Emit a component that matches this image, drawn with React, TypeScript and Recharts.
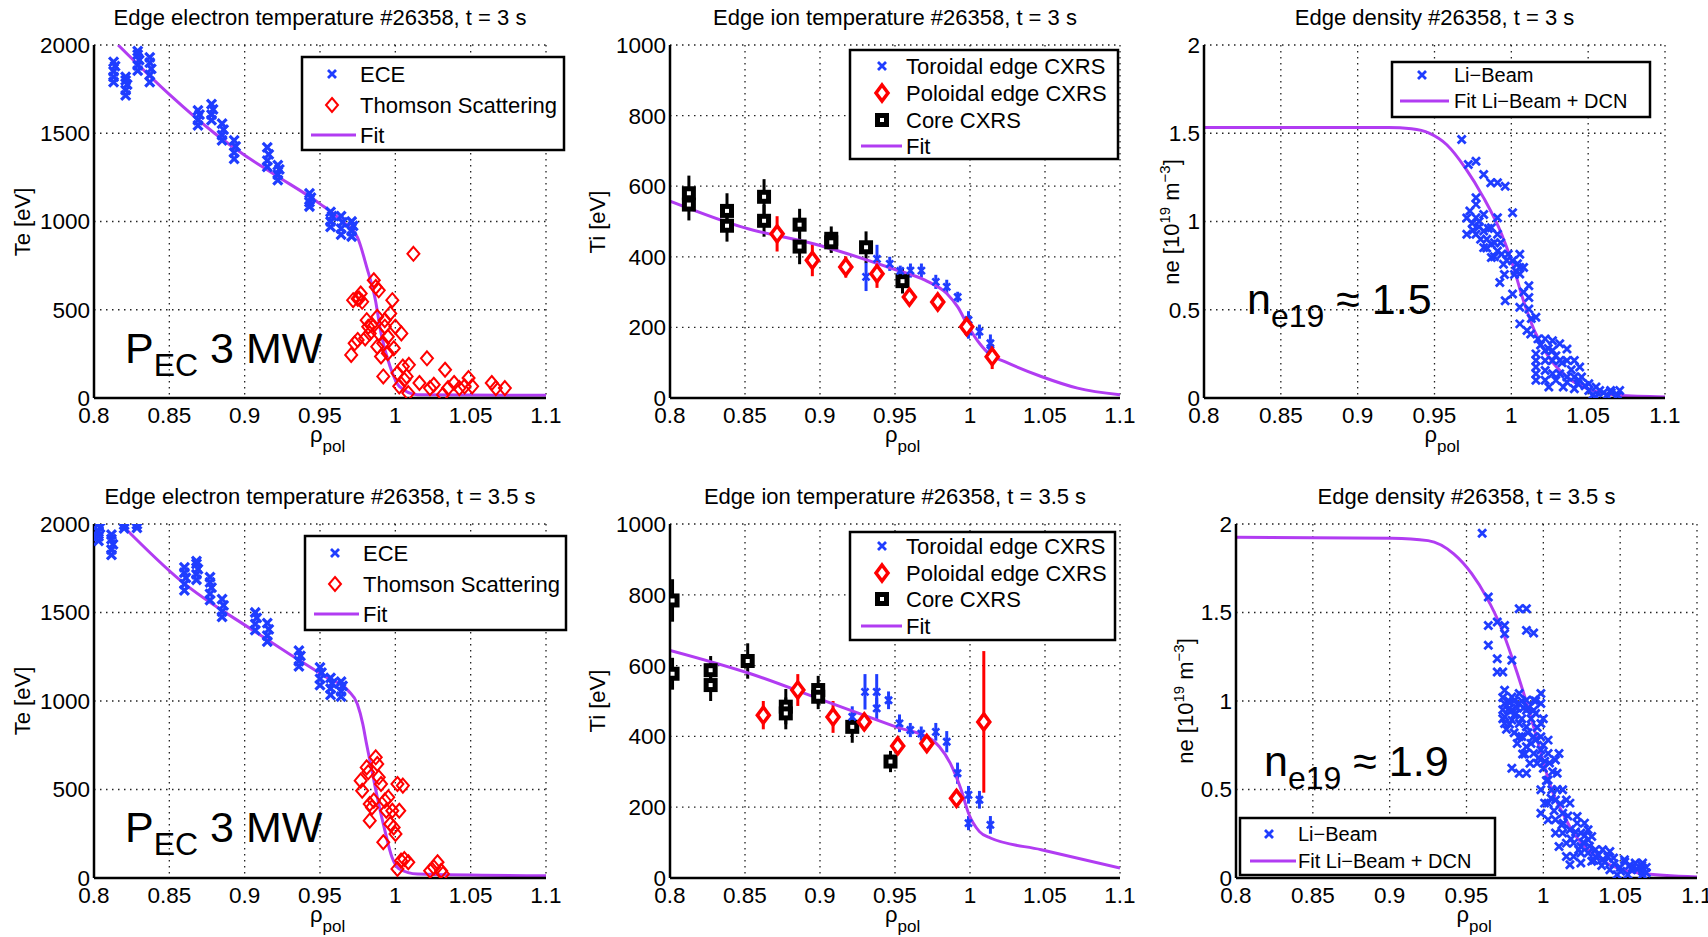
import React from 'react'
import { ComposedChart, Scatter, Line, XAxis, YAxis, CartesianGrid, ErrorBar } from 'recharts'

const FONT = '"Liberation Sans", Arial, Helvetica, sans-serif'
const BLUE = '#1f3dff'
const RED = '#ff0000'
const PURPLE = '#b13cf2'

const rhoTicks = [0.8, 0.85, 0.9, 0.95, 1, 1.05, 1.1]
const teTicks = [0, 500, 1000, 1500, 2000]
const tiTicks = [0, 200, 400, 600, 800, 1000]
const neTicks = [0, 0.5, 1, 1.5, 2]

// ---- t = 3 s ----
const eceTop = [
  [0.813, 1790], [0.813, 1820], [0.813, 1850], [0.814, 1880], [0.813, 1905],
  [0.821, 1715], [0.821, 1745], [0.822, 1775], [0.821, 1800], [0.821, 1820],
  [0.829, 1855], [0.829, 1885], [0.83, 1915], [0.829, 1945], [0.829, 1965],
  [0.837, 1790], [0.837, 1830], [0.838, 1865], [0.837, 1900], [0.837, 1930],
  [0.869, 1545], [0.869, 1575], [0.87, 1605], [0.869, 1630],
  [0.878, 1575], [0.878, 1605], [0.879, 1635], [0.878, 1665],
  [0.885, 1460], [0.885, 1490], [0.886, 1520], [0.885, 1555],
  [0.893, 1355], [0.893, 1390], [0.894, 1425], [0.893, 1460],
  [0.915, 1310], [0.915, 1345], [0.916, 1380], [0.915, 1420],
  [0.922, 1235], [0.922, 1265], [0.923, 1295], [0.922, 1320],
  [0.943, 1085], [0.943, 1110], [0.944, 1135], [0.943, 1160],
  [0.957, 970], [0.957, 1000], [0.958, 1030], [0.957, 1055],
  [0.964, 925], [0.964, 960], [0.965, 995], [0.964, 1030],
  [0.971, 915], [0.971, 945], [0.972, 975], [0.971, 1000],
]
const thomsonTop = [
  [0.9707, 244], [0.973, 310], [0.975, 329], [0.976, 563], [0.977, 592], [0.978, 545],
  [0.98, 338], [0.981, 441], [0.982, 404], [0.983, 366], [0.984, 413], [0.9857, 667],
  [0.987, 629], [0.988, 460], [0.989, 610], [0.989, 366], [0.9905, 235], [0.992, 122],
  [0.992, 310], [0.993, 441], [0.995, 347], [0.9966, 479], [0.998, 554], [0.999, 282],
  [1.0, 404], [1.0014, 141], [1.0026, 66], [1.004, 366], [1.005, 178], [1.006, 103],
  [1.0075, 122], [1.0086, 28], [1.009, 188], [1.012, 817], [1.016, 85], [1.021, 225],
  [1.023, 56], [1.0255, 75], [1.0316, 19], [1.033, 160], [1.035, 56], [1.039, 85],
  [1.0425, 56], [1.046, 66], [1.0486, 113], [1.051, 66], [1.064, 85], [1.0667, 56],
  [1.0727, 56], [0.975, 563], [0.972, 554], [0.993, 404], [0.995, 254], [0.988, 291],
]
const teFitTop = [
  [0.816, 2000], [0.85, 1720], [0.88, 1500], [0.9, 1375], [0.92, 1265], [0.95, 1100],
  [0.965, 1000], [0.9748, 911], [0.981, 742], [0.9868, 554], [0.9905, 366], [0.9965, 178],
  [1.0026, 66], [1.0147, 19], [1.1, 15],
]
const coreTop = [
  [0.8126, 580, 50], [0.8126, 548, 45], [0.838, 530, 50], [0.838, 488, 45],
  [0.8627, 570, 50], [0.8627, 502, 45], [0.8864, 491, 45], [0.8864, 429, 50],
  [0.9075, 451, 35], [0.9075, 441, 30], [0.9307, 427, 45], [0.955, 331, 35],
]
const poloTop = [
  [0.8714, 465, 50], [0.8949, 390, 45], [0.9172, 371, 30], [0.938, 352, 40],
  [0.9596, 286, 25], [0.9785, 272, 20], [0.9978, 202, 25], [1.0148, 117, 35],
]
const toroTop = [
  [0.9307, 343, 40], [0.938, 394, 40], [0.9465, 380, 20], [0.9535, 360, 15],
  [0.9603, 361, 20], [0.9676, 361, 20], [0.9772, 329, 20], [0.9845, 315, 20],
  [0.9918, 286, 15], [0.999, 221, 25], [0.999, 188, 20], [1.0063, 188, 20],
  [1.0136, 155, 25], [1.0136, 136, 20],
]
const tiFitTop = [
  [0.8, 558], [0.85, 482], [0.9, 432], [0.95, 364], [0.97, 334], [0.9845, 296],
  [0.9918, 258], [0.999, 202], [1.0063, 155], [1.0136, 122], [1.0232, 103],
  [1.0475, 61], [1.0717, 28], [1.1, 9],
]
const liTop = [
  [0.9677, 1.464], [0.972, 1.323], [0.977, 1.341], [0.982, 1.266], [0.9866, 1.219],
  [0.991, 1.219], [0.996, 1.2], [1.0008, 1.05], [0.971, 1.02], [0.971, 0.928],
  [0.977, 1.134], [0.977, 1.097], [0.977, 1.021], [0.977, 0.928], [0.982, 1.04],
  [0.982, 0.946], [0.982, 0.852], [0.987, 0.965], [0.987, 0.871], [0.987, 0.796],
  [0.991, 1.021], [0.991, 0.928], [0.991, 0.833], [0.9937, 0.815], [0.9949, 0.758],
  [0.998, 0.815], [1.0008, 0.777], [1.0055, 0.815], [1.0055, 0.739], [1.0055, 0.702],
  [0.9925, 0.655], [0.996, 0.551], [1.0008, 0.589], [1.0055, 0.514], [1.0114, 0.636],
  [1.0114, 0.57], [1.0114, 0.504], [1.016, 0.457], [1.0055, 0.42], [1.0102, 0.382],
  [1.0126, 0.363], [1.0173, 0.335], [1.022, 0.335], [1.0268, 0.325], [1.0315, 0.307],
  [1.0362, 0.278], [1.016, 0.25], [1.016, 0.213], [1.016, 0.175], [1.016, 0.137],
  [1.016, 0.1], [1.022, 0.213], [1.0268, 0.213], [1.0315, 0.213], [1.0362, 0.213],
  [1.041, 0.213], [1.0445, 0.175], [1.022, 0.156], [1.0268, 0.137], [1.0315, 0.137],
  [1.0362, 0.119], [1.041, 0.119], [1.0457, 0.119], [1.022, 0.1], [1.029, 0.1],
  [1.0362, 0.09], [1.0433, 0.081], [1.0504, 0.081], [1.0551, 0.062], [1.0244, 0.062],
  [1.0338, 0.062], [1.041, 0.053], [1.0504, 0.043], [1.0575, 0.043], [1.0646, 0.043],
  [1.0705, 0.043], [1.0528, 0.015], [1.0622, 0.015], [1.0693, 0.015], [1.0551, 0.006],
  [1.022, 0.269], [1.0268, 0.269], [0.9745, 0.99], [0.979, 0.97], [0.984, 0.9],
  [0.989, 0.88], [0.9955, 0.7], [1.003, 0.72], [1.008, 0.74],
  [0.973, 1.06], [0.975, 0.95], [0.979, 1.0], [0.98, 0.9], [0.984, 0.85], [0.985, 0.96],
  [0.989, 0.8], [0.993, 0.88], [0.997, 0.78], [1.002, 0.7], [1.004, 0.76], [1.008, 0.6],
  [1.013, 0.45], [1.019, 0.3], [1.024, 0.28], [1.029, 0.24], [1.033, 0.2], [1.039, 0.16],
  [1.044, 0.1], [1.048, 0.07], [1.06, 0.03], [1.065, 0.03],
]
const neFitTop = [
  [0.8, 1.533], [0.92, 1.532], [0.935, 1.525], [0.9465, 1.501], [0.958, 1.435],
  [0.97, 1.304], [0.982, 1.134], [0.9937, 0.928], [1.0008, 0.758], [1.0079, 0.551],
  [1.015, 0.382], [1.0244, 0.231], [1.0362, 0.119], [1.0528, 0.043], [1.0693, 0.015],
  [1.1, 0.006],
]

// ---- t = 3.5 s ----
const eceBot = [
  [0.803, 1905], [0.803, 1930], [0.803, 1955], [0.804, 1980], [0.803, 2000],
  [0.8116, 1825], [0.8116, 1855], [0.8126, 1885], [0.8116, 1915], [0.8116, 1940],
  [0.82, 1975], [0.82, 1995], [0.8285, 1978], [0.8285, 1998],
  [0.86, 1625], [0.86, 1660], [0.861, 1695], [0.86, 1725], [0.86, 1755],
  [0.868, 1685], [0.868, 1715], [0.869, 1745], [0.868, 1775], [0.868, 1790],
  [0.877, 1570], [0.877, 1605], [0.878, 1640], [0.877, 1670], [0.877, 1700],
  [0.885, 1475], [0.885, 1505], [0.886, 1540], [0.885, 1575],
  [0.907, 1400], [0.907, 1435], [0.908, 1470], [0.907, 1500],
  [0.915, 1335], [0.915, 1370], [0.916, 1405], [0.915, 1440],
  [0.936, 1195], [0.936, 1225], [0.937, 1255], [0.936, 1285],
  [0.95, 1090], [0.95, 1125], [0.951, 1160], [0.95, 1190],
  [0.957, 1035], [0.957, 1070], [0.958, 1100], [0.957, 1130],
  [0.964, 1025], [0.964, 1055], [0.965, 1085], [0.964, 1110],
]
const thomsonBot = [
  [0.977, 550], [0.978, 493], [0.981, 625], [0.982, 597], [0.983, 418], [0.983, 324],
  [0.9845, 399], [0.9857, 437], [0.987, 682], [0.988, 644], [0.989, 569], [0.9905, 531],
  [0.992, 202], [0.993, 437], [0.994, 380], [0.9953, 456], [0.9966, 305], [0.998, 380],
  [0.9989, 286], [1.0001, 249], [1.0014, 531], [1.0026, 380], [1.005, 522], [1.0014, 51],
  [1.0038, 98], [1.006, 107], [1.0086, 89], [1.0231, 41], [1.0256, 60], [1.028, 89],
  [1.0304, 41], [1.0316, 23],
]
const teFitBot = [
  [0.819, 1990], [0.8575, 1680], [0.9059, 1397], [0.9542, 1134], [0.9688, 1058],
  [0.9748, 983], [0.9784, 870], [0.9809, 757], [0.9845, 606], [0.988, 456], [0.993, 270],
  [0.9978, 117], [1.0026, 51], [1.0147, 23], [1.1, 13],
]
const coreBot = [
  [0.8017, 784, 60], [0.8017, 577, 45], [0.8271, 587, 40], [0.8271, 545, 45],
  [0.8518, 613, 50], [0.8772, 484, 50], [0.8772, 465, 45], [0.8988, 531, 40],
  [0.8988, 512, 35], [0.9215, 427, 45], [0.947, 329, 30],
]
const poloBot = [
  [0.8622, 460, 40], [0.8852, 531, 45], [0.9087, 455, 45], [0.9295, 441, 25],
  [0.9518, 373, 25], [0.9712, 380, 20], [0.991, 225, 25], [1.0092, 441, 200],
]
const toroBot = [
  [0.93, 526, 50], [0.9378, 526, 50], [0.9378, 479, 30], [0.9457, 502, 25],
  [0.953, 437, 25], [0.9602, 418, 20], [0.9675, 408, 20], [0.9772, 413, 25],
  [0.9845, 385, 30], [0.9917, 296, 30], [0.999, 235, 25], [0.999, 155, 20],
  [1.0063, 221, 25], [1.0136, 150, 25], [0.9215, 455, 30],
]
const tiFitBot = [
  [0.8, 643], [0.8537, 577], [0.9022, 502], [0.9506, 427], [0.9748, 390], [0.9796, 371],
  [0.9869, 324], [0.9941, 249], [0.999, 183], [1.0063, 131], [1.0136, 113],
  [1.0475, 80], [1.1, 28],
]
const liBot = [
  [0.9602, 1.948], [0.9642, 1.587], [0.9642, 1.427], [0.9642, 1.315], [0.97, 1.446],
  [0.9748, 1.427], [0.97, 1.239], [0.97, 1.164], [0.9748, 1.38], [0.9795, 1.23],
  [0.9843, 1.521], [0.989, 1.521], [0.989, 1.399], [0.9937, 1.384], [0.9736, 1.164],
  [0.9748, 1.061], [0.9748, 0.986], [0.9748, 0.911], [0.9748, 0.873], [0.9795, 1.023],
  [0.9795, 0.948], [0.9795, 0.892], [0.9843, 1.042], [0.9843, 0.986], [0.9843, 0.873],
  [0.9843, 0.798], [0.989, 1.005], [0.989, 0.948], [0.989, 0.854], [0.989, 0.742],
  [0.9937, 1.005], [0.9937, 0.948], [0.9984, 1.042], [0.9984, 0.986], [0.9984, 0.873],
  [0.9984, 0.798], [0.9913, 0.648], [0.996, 0.648], [0.9795, 0.62], [0.9843, 0.592],
  [0.989, 0.592], [0.9937, 0.704], [0.9937, 0.798], [0.9984, 0.723], [1.0031, 0.779],
  [1.0031, 0.704], [1.0079, 0.667], [1.0102, 0.704], [0.9984, 0.498], [1.0031, 0.554],
  [1.0055, 0.498], [1.009, 0.592], [1.0031, 0.423], [1.0079, 0.441], [1.0126, 0.498],
  [1.015, 0.441], [1.0031, 0.329], [1.0079, 0.329], [1.0126, 0.366], [1.0173, 0.423],
  [1.0079, 0.254], [1.0126, 0.254], [1.0173, 0.272], [1.022, 0.31], [1.0244, 0.254],
  [1.0102, 0.178], [1.015, 0.197], [1.0197, 0.197], [1.0244, 0.178], [1.0291, 0.216],
  [1.0315, 0.235], [1.015, 0.122], [1.0197, 0.122], [1.0244, 0.141], [1.0291, 0.141],
  [1.0339, 0.16], [1.0386, 0.16], [1.0433, 0.15], [1.0173, 0.075], [1.0244, 0.085],
  [1.0315, 0.094], [1.0386, 0.103], [1.0457, 0.113], [1.0528, 0.103], [1.0598, 0.085],
  [1.0646, 0.085], [1.0433, 0.047], [1.0504, 0.038], [1.0575, 0.047], [1.0646, 0.038],
  [1.0646, 0.056], [1.048, 0.019], [1.055, 0.019], [1.0646, 0.019], [1.022, 0.347],
  [1.0268, 0.31], [1.0291, 0.272], [0.9984, 0.366], [1.0008, 0.423], [0.977, 0.95],
  [0.982, 0.93], [0.987, 0.96], [0.992, 0.9], [0.996, 0.85], [1.001, 0.66],
  [1.006, 0.6], [0.9775, 1.0], [0.9865, 0.7], [1.012, 0.3], [1.034, 0.12],
  [1.04, 0.09], [1.056, 0.07], [1.026, 0.2],
  [0.9736, 1.02], [0.9736, 0.95], [0.9736, 0.9], [0.976, 0.84], [0.978, 0.99], [0.978, 0.87],
  [0.981, 1.0], [0.981, 0.92], [0.981, 0.82], [0.983, 0.96], [0.983, 0.76], [0.986, 1.0],
  [0.986, 0.9], [0.986, 0.8], [0.988, 0.7], [0.99, 0.96], [0.99, 0.82], [0.992, 0.76],
  [0.995, 1.0], [0.995, 0.93], [0.995, 0.78], [0.997, 0.68], [1.0, 0.9], [1.0, 0.75],
  [1.0, 0.62], [1.002, 0.55], [1.004, 0.65], [1.005, 0.45], [1.007, 0.38], [1.009, 0.5],
  [1.011, 0.42], [1.013, 0.31], [1.016, 0.35], [1.018, 0.22], [1.021, 0.26], [1.023, 0.16],
  [1.027, 0.24], [1.03, 0.18], [1.033, 0.1], [1.036, 0.13], [1.038, 0.07], [1.042, 0.12],
  [1.046, 0.08], [1.05, 0.06], [1.053, 0.09], [1.058, 0.06], [1.061, 0.05], [1.064, 0.07],
  [1.067, 0.03], [1.067, 0.06],
]
const neFitBot = [
  [0.8, 1.925], [0.9016, 1.92], [0.925, 1.906], [0.9417, 1.831], [0.9535, 1.718],
  [0.963, 1.587], [0.9724, 1.418], [0.9795, 1.249], [0.9866, 1.061], [0.9937, 0.854],
  [0.9996, 0.667], [1.0055, 0.498], [1.0126, 0.366], [1.0197, 0.254], [1.0315, 0.141],
  [1.0433, 0.075], [1.0622, 0.028], [1.1, 0.006],
]

const pts = (arr: number[][]) => arr.map(([x, y, e]) => ({ x, y, e }))

const XMark = ({ cx, cy, color = BLUE, s = 4, w = 2.4 }: any) => (
  <path d={`M${cx - s},${cy - s}L${cx + s},${cy + s}M${cx - s},${cy + s}L${cx + s},${cy - s}`} stroke={color} strokeWidth={w} fill="none" />
)
const Diamond = ({ cx, cy, hw = 6, hh = 7, w = 2, fill = 'none' }: any) => (
  <path d={`M${cx},${cy - hh}L${cx + hw},${cy}L${cx},${cy + hh}L${cx - hw},${cy}Z`} stroke={RED} strokeWidth={w} fill={fill} />
)
const Square = ({ cx, cy }: any) => (
  <rect x={cx - 4.5} y={cy - 4.5} width={9} height={9} stroke="#000" strokeWidth={5} fill="#fff" />
)
const ece = (p: any) => <XMark cx={p.cx} cy={p.cy} s={4.5} w={3.2} />
const thom = (p: any) => <Diamond cx={p.cx} cy={p.cy} />
const polo = (p: any) => <Diamond cx={p.cx} cy={p.cy} hw={6} hh={8} w={3.5} fill="#fff" />
const core = (p: any) => <Square cx={p.cx} cy={p.cy} />
const toro = (p: any) => <XMark cx={p.cx} cy={p.cy} s={3.5} w={2.6} />
const li = (p: any) => <XMark cx={p.cx} cy={p.cy} s={4} w={2.8} />

const P1 = { l: 94, t: 45, w: 452, h: 353 }
const P2 = { l: 670, t: 45, w: 450, h: 353 }
const P3 = { l: 1204, t: 45, w: 461, h: 353 }
const P4 = { l: 94, t: 524, w: 452, h: 354 }
const P5 = { l: 670, t: 524, w: 450, h: 354 }
const P6 = { l: 1236, t: 524, w: 461, h: 354 }

function Panel({ box, yMax, yTicks, children }: any) {
  const mL = 60
  const mT = 12
  const mR = 28
  const xH = 40
  const tickStyle = { fill: '#000', fontSize: 22.5, fontFamily: FONT }
  return (
    <div style={{ position: 'absolute', left: box.l - mL, top: box.t - mT }}>
      <ComposedChart width={mL + box.w + mR} height={mT + box.h + xH} margin={{ top: mT, right: mR, left: 0, bottom: 0 }}>
        <CartesianGrid stroke="#222" strokeDasharray="1.5 4.5" strokeWidth={1.3} />
        <XAxis type="number" dataKey="x" domain={[0.8, 1.1]} ticks={rhoTicks} interval={0} height={xH}
          tickLine={false} tickSize={6} tickMargin={3} axisLine={{ stroke: '#000', strokeWidth: 2.5 }} tick={tickStyle} allowDataOverflow />
        <YAxis type="number" dataKey="y" domain={[0, yMax]} ticks={yTicks} interval={0} width={mL}
          tickLine={false} tickSize={3} tickMargin={1} axisLine={{ stroke: '#000', strokeWidth: 2.5 }} tick={tickStyle} allowDataOverflow />
        {children}
      </ComposedChart>
    </div>
  )
}

const fitLine = (data: number[][], key: string) => (
  <Line key={key} data={pts(data)} dataKey="y" type="monotone" stroke={PURPLE} strokeWidth={3} dot={false} activeDot={false} isAnimationActive={false} />
)

function LegendBox({ x, y, w, h, rows, mx, tx, lx1, lx2, fs }: any) {
  return (
    <g>
      <rect x={x} y={y} width={w} height={h} fill="#fff" stroke="#000" strokeWidth={2.5} />
      {rows.map((r: any, i: number) => (
        <g key={i}>
          {r.kind === 'x' && <XMark cx={mx} cy={r.y} s={4} w={2.8} />}
          {r.kind === 'd' && <Diamond cx={mx} cy={r.y} />}
          {r.kind === 'pd' && <Diamond cx={mx} cy={r.y} hw={6} hh={8} w={3.5} fill="#fff" />}
          {r.kind === 's' && <Square cx={mx} cy={r.y} />}
          {r.kind === 'l' && <line x1={lx1} x2={lx2} y1={r.y} y2={r.y} stroke={PURPLE} strokeWidth={3} />}
          <text x={tx} y={r.y + fs * 0.36} fontSize={fs} fontFamily={FONT} fill="#000">{r.label}</text>
        </g>
      ))}
    </g>
  )
}

function Title({ box, y, children }: any) {
  return <text x={box.l + box.w / 2} y={y} textAnchor="middle" fontSize={22} fontFamily={FONT} fill="#000">{children}</text>
}

function RhoLabel({ box, y }: any) {
  return (
    <text x={box.l + box.w / 2 - 10} y={y} fontSize={22} fontFamily={FONT} fill="#000">
      ρ<tspan dy={10} fontSize={17}>pol</tspan>
    </text>
  )
}

function YLabel({ x, cy, children }: any) {
  return (
    <text transform={`translate(${x},${cy}) rotate(-90)`} textAnchor="middle" fontSize={22} fontFamily={FONT} fill="#000">{children}</text>
  )
}

function NeLabel({ x, cy }: any) {
  return (
    <text transform={`translate(${x},${cy}) rotate(-90)`} textAnchor="middle" fontSize={22} fontFamily={FONT} fill="#000">
      ne [10<tspan dy={-9} fontSize={15}>19</tspan><tspan dy={9}> m</tspan><tspan dy={-9} fontSize={15}>−3</tspan><tspan dy={9}>]</tspan>
    </text>
  )
}

function Big({ x, y, sub, rest }: any) {
  return (
    <text x={x} y={y} fontSize={43} fontFamily={FONT} fill="#000">
      {sub[0]}<tspan dy={13} fontSize={32}>{sub[1]}</tspan><tspan dy={-13}>{rest}</tspan>
    </text>
  )
}

export default function App() {
  return (
    <div style={{ position: 'absolute', left: 0, top: 0, width: 1708, height: 937, background: '#fff', overflow: 'hidden' }}>
      <Panel box={P1} yMax={2000} yTicks={teTicks}>
        {fitLine(teFitTop, 'f1')}
        <Scatter data={pts(eceTop)} shape={ece} isAnimationActive={false} />
        <Scatter data={pts(thomsonTop)} shape={thom} isAnimationActive={false} />
      </Panel>
      <Panel box={P2} yMax={1000} yTicks={tiTicks}>
        <Scatter data={pts(coreTop)} shape={core} isAnimationActive={false}>
          <ErrorBar dataKey="e" direction="y" width={0} stroke="#000" strokeWidth={3} />
        </Scatter>
        <Scatter data={pts(toroTop)} shape={toro} isAnimationActive={false}>
          <ErrorBar dataKey="e" direction="y" width={0} stroke={BLUE} strokeWidth={3} />
        </Scatter>
        <Scatter data={pts(poloTop)} shape={polo} isAnimationActive={false}>
          <ErrorBar dataKey="e" direction="y" width={0} stroke={RED} strokeWidth={3} />
        </Scatter>
        {fitLine(tiFitTop, 'f2')}
      </Panel>
      <Panel box={P3} yMax={2} yTicks={neTicks}>
        <Scatter data={pts(liTop)} shape={li} isAnimationActive={false} />
        {fitLine(neFitTop, 'f3')}
      </Panel>
      <Panel box={P4} yMax={2000} yTicks={teTicks}>
        {fitLine(teFitBot, 'f4')}
        <Scatter data={pts(eceBot)} shape={ece} isAnimationActive={false} />
        <Scatter data={pts(thomsonBot)} shape={thom} isAnimationActive={false} />
      </Panel>
      <Panel box={P5} yMax={1000} yTicks={tiTicks}>
        <Scatter data={pts(coreBot)} shape={core} isAnimationActive={false}>
          <ErrorBar dataKey="e" direction="y" width={0} stroke="#000" strokeWidth={3} />
        </Scatter>
        <Scatter data={pts(toroBot)} shape={toro} isAnimationActive={false}>
          <ErrorBar dataKey="e" direction="y" width={0} stroke={BLUE} strokeWidth={3} />
        </Scatter>
        <Scatter data={pts(poloBot)} shape={polo} isAnimationActive={false}>
          <ErrorBar dataKey="e" direction="y" width={0} stroke={RED} strokeWidth={3} />
        </Scatter>
        {fitLine(tiFitBot, 'f5')}
      </Panel>
      <Panel box={P6} yMax={2} yTicks={neTicks}>
        <Scatter data={pts(liBot)} shape={li} isAnimationActive={false} />
        {fitLine(neFitBot, 'f6')}
      </Panel>

      <svg width={1708} height={937} style={{ position: 'absolute', left: 0, top: 0, pointerEvents: 'none' }}>
        <Title box={P1} y={25}>Edge electron temperature #26358, t = 3 s</Title>
        <Title box={P2} y={25}>Edge ion temperature #26358, t = 3 s</Title>
        <Title box={P3} y={25}>Edge density #26358, t = 3 s</Title>
        <Title box={P4} y={504}>Edge electron temperature #26358, t = 3.5 s</Title>
        <Title box={P5} y={504}>Edge ion temperature #26358, t = 3.5 s</Title>
        <Title box={P6} y={504}>Edge density #26358, t = 3.5 s</Title>

        <RhoLabel box={P1} y={442} />
        <RhoLabel box={P2} y={442} />
        <RhoLabel box={P3} y={442} />
        <RhoLabel box={P4} y={922} />
        <RhoLabel box={P5} y={922} />
        <RhoLabel box={P6} y={922} />

        <YLabel x={30} cy={222}>Te [eV]</YLabel>
        <YLabel x={605} cy={222}>Ti [eV]</YLabel>
        <NeLabel x={1179} cy={222} />
        <YLabel x={30} cy={701}>Te [eV]</YLabel>
        <YLabel x={605} cy={701}>Ti [eV]</YLabel>
        <NeLabel x={1193} cy={701} />

        <Big x={125} y={363} sub={['P', 'EC']} rest=" 3 MW" />
        <Big x={125} y={842} sub={['P', 'EC']} rest=" 3 MW" />
        <Big x={1247} y={314} sub={['n', 'e19']} rest=" ≈ 1.5" />
        <Big x={1264} y={776} sub={['n', 'e19']} rest=" ≈ 1.9" />

        <LegendBox x={302} y={57} w={262} h={93} fs={22} mx={332} tx={360} lx1={311} lx2={356}
          rows={[{ kind: 'x', y: 74, label: 'ECE' }, { kind: 'd', y: 105, label: 'Thomson Scattering' }, { kind: 'l', y: 135, label: 'Fit' }]} />
        <LegendBox x={305} y={536} w={261} h={94} fs={22} mx={335} tx={363} lx1={314} lx2={359}
          rows={[{ kind: 'x', y: 553, label: 'ECE' }, { kind: 'd', y: 584, label: 'Thomson Scattering' }, { kind: 'l', y: 614, label: 'Fit' }]} />
        <LegendBox x={850} y={50} w={268} h={109} fs={22} mx={882} tx={906} lx1={861} lx2={902}
          rows={[{ kind: 'x', y: 66, label: 'Toroidal edge CXRS' }, { kind: 'pd', y: 93, label: 'Poloidal edge CXRS' }, { kind: 's', y: 120, label: 'Core CXRS' }, { kind: 'l', y: 146, label: 'Fit' }]} />
        <LegendBox x={850} y={532} w={265} h={108} fs={22} mx={882} tx={906} lx1={861} lx2={902}
          rows={[{ kind: 'x', y: 546, label: 'Toroidal edge CXRS' }, { kind: 'pd', y: 573, label: 'Poloidal edge CXRS' }, { kind: 's', y: 599, label: 'Core CXRS' }, { kind: 'l', y: 626, label: 'Fit' }]} />
        <LegendBox x={1392} y={62} w={258} h={55} fs={20} mx={1422} tx={1454} lx1={1400} lx2={1449}
          rows={[{ kind: 'x', y: 75, label: 'Li−Beam' }, { kind: 'l', y: 101, label: 'Fit Li−Beam + DCN' }]} />
        <LegendBox x={1240} y={818} w={255} h={57} fs={20} mx={1269} tx={1298} lx1={1250} lx2={1296}
          rows={[{ kind: 'x', y: 834, label: 'Li−Beam' }, { kind: 'l', y: 861, label: 'Fit Li−Beam + DCN' }]} />
      </svg>
    </div>
  )
}
